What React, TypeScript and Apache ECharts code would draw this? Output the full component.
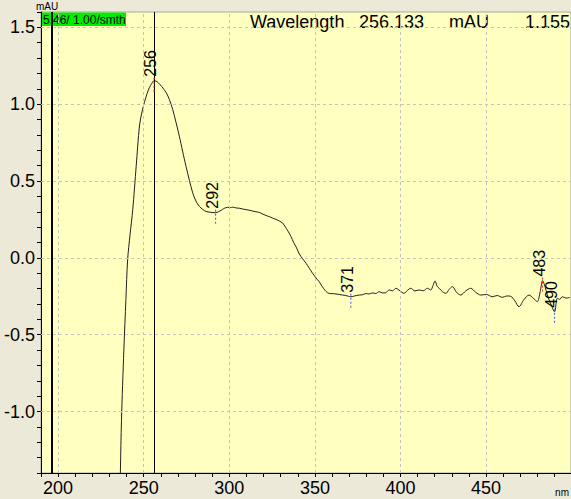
import React, { useEffect, useRef } from "react";
import * as echarts from "echarts";

// UV spectrum (DAD) — wavelength in nm, absorbance in mAU
const wavelengths = [
  235.8, 236.4, 237.0, 238.4, 239.6, 240.6, 242.0, 243.6, 245.6, 247.5, 249.0, 250.4, 252.0, 253.3, 254.7,
  256.0, 257.2, 258.4, 260.5, 263.1, 265.0, 266.9, 268.8, 270.8, 272.7, 274.7, 276.7, 278.6, 280.5, 282.5,
  284.5, 286.4, 288.8, 290.5, 292.0, 293.6, 295.2, 297.0, 299.0, 300.5, 302.0, 303.9, 305.8, 307.8, 309.7,
  311.6, 313.5, 315.5, 317.5, 319.5, 321.4, 323.4, 325.3, 327.3, 329.2, 331.1, 332.8, 334.5, 336.0, 337.6,
  339.3, 340.9, 342.8, 344.8, 346.7, 348.6, 350.6, 352.5, 354.2, 355.8, 357.4, 359.0, 360.7, 362.3, 364.2,
  366.1, 368.0, 369.6, 371.0, 372.5, 374.2, 375.9, 377.8, 379.8, 381.7, 383.6, 385.6, 387.5, 389.4, 391.4,
  393.4, 395.3, 397.3, 399.7, 402.1, 404.0, 406.0, 408.4, 410.9, 413.3, 415.7, 417.7, 419.0, 420.2, 421.4,
  422.6, 424.5, 426.5, 428.4, 430.3, 432.8, 435.2, 438.1, 441.0, 444.0, 446.9, 450.3, 453.6, 456.5, 459.5,
  462.0, 464.4, 466.8, 469.2, 472.2, 475.1, 477.5, 479.9, 481.6, 483.0, 484.5, 485.8, 487.8, 490.0, 491.6,
  493.0, 494.5, 496.8, 499.0,
];

const absorbance = [
  -1.7, -1.38, -1.06, -0.6, -0.27, -0.013, 0.15, 0.314, 0.596, 0.858, 0.95, 1.012, 1.07, 1.108, 1.135,
  1.153, 1.15, 1.141, 1.115, 1.076, 1.03, 0.967, 0.885, 0.792, 0.695, 0.596, 0.505, 0.423, 0.37, 0.335,
  0.315, 0.302, 0.297, 0.295, 0.294, 0.3, 0.309, 0.322, 0.329, 0.327, 0.33, 0.325, 0.323, 0.318, 0.314,
  0.31, 0.305, 0.3, 0.296, 0.285, 0.276, 0.268, 0.259, 0.25, 0.24, 0.227, 0.2, 0.17, 0.139, 0.1,
  0.065, 0.025, -0.005, -0.035, -0.067, -0.1, -0.13, -0.155, -0.185, -0.21, -0.227, -0.232, -0.233, -0.235, -0.238,
  -0.242, -0.245, -0.25, -0.253, -0.25, -0.245, -0.242, -0.24, -0.232, -0.235, -0.228, -0.232, -0.22, -0.228, -0.227,
  -0.209, -0.215, -0.198, -0.215, -0.231, -0.212, -0.198, -0.215, -0.209, -0.214, -0.198, -0.209, -0.18, -0.15, -0.185,
  -0.198, -0.22, -0.231, -0.205, -0.187, -0.225, -0.242, -0.215, -0.198, -0.225, -0.242, -0.238, -0.253, -0.245, -0.257,
  -0.248, -0.25, -0.28, -0.318, -0.27, -0.242, -0.262, -0.285, -0.22, -0.148, -0.19, -0.242, -0.3, -0.351, -0.263,
  -0.27, -0.253, -0.262, -0.257,
];

// Labelled extrema: wavelength and whether it is a maximum or a minimum
const peakWavelengths = [256.0, 292.0, 371.0, 483.0, 490.0];
const peakNames = ["256", "292", "371", "483", "490"];
const peakKinds = ["max", "min", "min", "max", "min"];

// Cursor readout and reference marker
const cursorWavelength = 256.133;
const cursorMAU = 1.155;
const markerWavelength = 196.5;
const traceLabel = "5.46/ 1.00/smth";

// Axis ticks
const xLabelValues = [200, 250, 300, 350, 400, 450];
const yLabelValues = [-1.0, -0.5, 0.0, 0.5, 1.0, 1.5];

const FONT = "'Liberation Sans', Arial, sans-serif";

export default function App() {
  const ref = useRef<HTMLDivElement>(null);

  useEffect(() => {
    if (!ref.current) return;
    const chart = echarts.init(ref.current, undefined, { renderer: "svg" });

    const curve = wavelengths.map((w, i) => [w, absorbance[i]]);
    const peaks = peakWavelengths.map((w, i) => ({
      value: [w, absorbance[wavelengths.indexOf(w)]],
      name: peakNames[i],
    }));

    const isMultiple = (v: number, step: number) =>
      Math.abs(v / step - Math.round(v / step)) < 1e-6;

    chart.setOption({
      animation: false,
      backgroundColor: "#ece9d8",
      textStyle: { fontFamily: FONT },
      grid: {
        left: 41,
        top: 12,
        right: -1,
        bottom: 26,
        show: true,
        backgroundColor: "#ffffc0",
        borderColor: "#a8a8a0",
        borderWidth: 1,
      },
      xAxis: {
        type: "value",
        min: 190,
        max: 499.6,
        interval: 10,
        axisLine: { show: true, onZero: false, lineStyle: { color: "#000", width: 1 } },
        axisTick: { show: true, length: 4, lineStyle: { color: "#000" } },
        splitLine: { show: false },
        axisLabel: {
          fontSize: 18,
          color: "#000",
          fontFamily: FONT,
          margin: 6,
          showMaxLabel: false,
          formatter: (v: number) => (xLabelValues.some((t) => Math.abs(t - v) < 1e-6) ? String(Math.round(v)) : ""),
        },
      },
      yAxis: {
        type: "value",
        min: -1.4,
        max: 1.6,
        interval: 0.1,
        axisLine: { show: true, onZero: false, lineStyle: { color: "#000", width: 1 } },
        axisTick: { show: true, length: 4, lineStyle: { color: "#000" } },
        splitLine: { show: false },
        axisLabel: {
          fontSize: 18,
          color: "#000",
          fontFamily: FONT,
          margin: 6,
          formatter: (v: number) => (isMultiple(v, 0.5) ? (Math.abs(v) < 1e-9 ? 0 : v).toFixed(1) : ""),
        },
      },
      series: [
        {
          name: "grid",
          type: "line",
          data: [],
          z: 1,
          silent: true,
          markLine: {
            silent: true,
            symbol: ["none", "none"],
            label: { show: false },
            lineStyle: { color: "#c4c4c0", type: [3, 3], width: 1 },
            data: [
              ...xLabelValues.map((v) => ({ xAxis: v })),
              ...yLabelValues.map((v) => ({ yAxis: v })),
            ],
          },
        },
        {
          name: "spectrum",
          type: "line",
          data: curve,
          z: 3,
          showSymbol: false,
          symbol: "none",
          smooth: 0.3,
          clip: true,
          lineStyle: { color: "#202020", width: 1 },
        },
        {
          name: "cursors",
          type: "line",
          data: [],
          z: 4,
          silent: true,
          markLine: {
            silent: true,
            symbol: ["none", "none"],
            label: { show: false },
            data: [
              { xAxis: cursorWavelength, lineStyle: { color: "#000", width: 1, type: "solid" } },
              { xAxis: markerWavelength, lineStyle: { color: "#000", width: 2, type: "solid" } },
            ],
          },
        },
        {
          name: "peaks",
          type: "custom",
          z: 5,
          silent: true,
          data: peaks,
          renderItem: (params: any, api: any) => {
            const p = api.coord([api.value(0), api.value(1)]);
            const i = params.dataIndex;
            const color = peakKinds[i] === "max" ? "#ff2020" : "#4a4aff";
            return {
              type: "group",
              children: [
                {
                  type: "line",
                  shape: { x1: p[0], y1: p[1] - 3, x2: p[0], y2: p[1] + 11 },
                  style: { stroke: color, lineWidth: 1, lineDash: [2, 2] },
                },
                {
                  type: "text",
                  x: p[0] - 3,
                  y: p[1] - 4,
                  rotation: Math.PI / 2,
                  style: {
                    text: peakNames[i],
                    fontSize: 16,
                    fontFamily: FONT,
                    fill: "#000",
                    align: "left",
                    verticalAlign: "middle",
                  },
                },
              ],
            };
          },
        },
      ],
      graphic: [
        {
          type: "rect",
          z: 2,
          shape: { x: 42, y: 12.5, width: 84, height: 13.5 },
          style: { fill: "#00ee00" },
        },
        {
          type: "text",
          z: 2,
          x: 43,
          y: 19.5,
          style: { text: traceLabel, fontSize: 12, fontFamily: FONT, fill: "#000", verticalAlign: "middle" },
        },
        {
          type: "text",
          z: 2,
          x: 36,
          y: 1,
          style: { text: "mAU", fontSize: 10, fontFamily: FONT, fill: "#000", verticalAlign: "top" },
        },
        {
          type: "text",
          z: 2,
          x: 250,
          y: 22,
          style: { text: "Wavelength", fontSize: 18, fontFamily: FONT, fill: "#000", verticalAlign: "middle" },
        },
        {
          type: "text",
          z: 2,
          x: 359,
          y: 22,
          style: { text: cursorWavelength.toFixed(3), fontSize: 18, fontFamily: FONT, fill: "#000", verticalAlign: "middle" },
        },
        {
          type: "text",
          z: 2,
          x: 449,
          y: 22,
          style: { text: "mAU", fontSize: 18, fontFamily: FONT, fill: "#000", verticalAlign: "middle" },
        },
        {
          type: "text",
          z: 2,
          x: 570,
          y: 22,
          style: { text: cursorMAU.toFixed(3), fontSize: 18, fontFamily: FONT, fill: "#000", align: "right", verticalAlign: "middle" },
        },
        {
          type: "text",
          z: 2,
          x: 569,
          y: 492,
          style: { text: "nm", fontSize: 10, fontFamily: FONT, fill: "#000", align: "right", verticalAlign: "middle" },
        },
      ],
    });

    return () => chart.dispose();
  }, []);

  return (
    <div
      ref={ref}
      style={{ position: "fixed", left: 0, top: 0, width: 571, height: 499 }}
    />
  );
}
